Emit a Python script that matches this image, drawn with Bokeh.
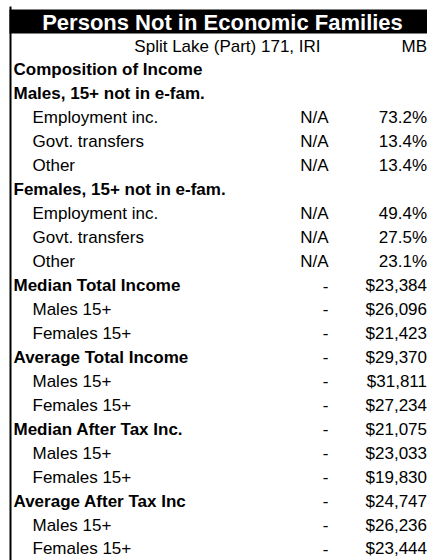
from bokeh.plotting import figure
from bokeh.models import Range1d, ColumnDataSource
from bokeh.core.properties import value
from bokeh.embed import file_html
from bokeh.resources import INLINE

title = "Persons Not in Economic Families"
area_name = "Split Lake (Part) 171, IRI"
province = "MB"

labels = [
    "Composition of Income",
    "Males, 15+ not in e-fam.",
    "Employment inc.",
    "Govt. transfers",
    "Other",
    "Females, 15+ not in e-fam.",
    "Employment inc.",
    "Govt. transfers",
    "Other",
    "Median Total Income",
    "Males 15+",
    "Females 15+",
    "Average Total Income",
    "Males 15+",
    "Females 15+",
    "Median After Tax Inc.",
    "Males 15+",
    "Females 15+",
    "Average After Tax  Inc",
    "Males 15+",
    "Females 15+",
]
is_heading = [True, True, False, False, False, True, False, False, False,
              True, False, False, True, False, False,
              True, False, False, True, False, False]
local_values = ["", "", "N/A", "N/A", "N/A", "", "N/A", "N/A", "N/A",
                "-", "-", "-", "-", "-", "-", "-", "-", "-", "-", "-", "-"]
province_values = ["", "", "73.2%", "13.4%", "13.4%", "", "49.4%", "27.5%", "23.1%",
                   "$23,384", "$26,096", "$21,423", "$29,370", "$31,811", "$27,234",
                   "$21,075", "$23,033", "$19,830", "$24,747", "$26,236", "$23,444"]

W, H = 427, 560
FONT = "Liberation Sans"
FS = "17px"
ROW0 = 45.5
PITCH = 23.95

p = figure(width=W, height=H, output_backend="svg", toolbar_location=None,
           x_range=Range1d(0, W), y_range=Range1d(H, 0), min_border=0,
           outline_line_color=None, background_fill_color="white",
           border_fill_color="white")
p.axis.visible = False
p.grid.visible = False

# title bar and left rule
p.quad(left=[9], right=[W], top=[9], bottom=[33], fill_color="black", line_color=None)
p.segment(x0=[10], y0=[6], x1=[10], y1=[H], line_color="black", line_width=2)
p.text(x=[222], y=[21.5], text=[title], text_font=value(FONT), text_font_style="bold",
       text_font_size="22px", text_color="white", text_align="center", text_baseline="middle")

# header row
p.text(x=[320], y=[ROW0], text=[area_name], text_font=value(FONT), text_font_size=FS,
       text_color="black", text_align="right", text_baseline="middle")
p.text(x=[426.5], y=[ROW0], text=[province], text_font=value(FONT), text_font_size=FS,
       text_color="black", text_align="right", text_baseline="middle")

ys = [ROW0 + PITCH * (i + 1) for i in range(len(labels))]
bold_src = ColumnDataSource(dict(
    x=[13] * sum(is_heading),
    y=[y for y, h in zip(ys, is_heading) if h],
    t=[l for l, h in zip(labels, is_heading) if h]))
norm_src = ColumnDataSource(dict(
    x=[32] * (len(labels) - sum(is_heading)),
    y=[y for y, h in zip(ys, is_heading) if not h],
    t=[l for l, h in zip(labels, is_heading) if not h]))
p.text(x="x", y="y", text="t", source=bold_src, text_font=value(FONT), text_font_style="bold",
       text_font_size=FS, text_color="black", text_align="left", text_baseline="middle")
p.text(x="x", y="y", text="t", source=norm_src, text_font=value(FONT),
       text_font_size=FS, text_color="black", text_align="left", text_baseline="middle")

p.text(x=[328] * len(ys), y=ys, text=local_values, text_font=value(FONT), text_font_size=FS,
       text_color="black", text_align="right", text_baseline="middle")
p.text(x=[426.5] * len(ys), y=ys, text=province_values, text_font=value(FONT), text_font_size=FS,
       text_color="black", text_align="right", text_baseline="middle")

open("out.html", "w").write(file_html(p, INLINE))
